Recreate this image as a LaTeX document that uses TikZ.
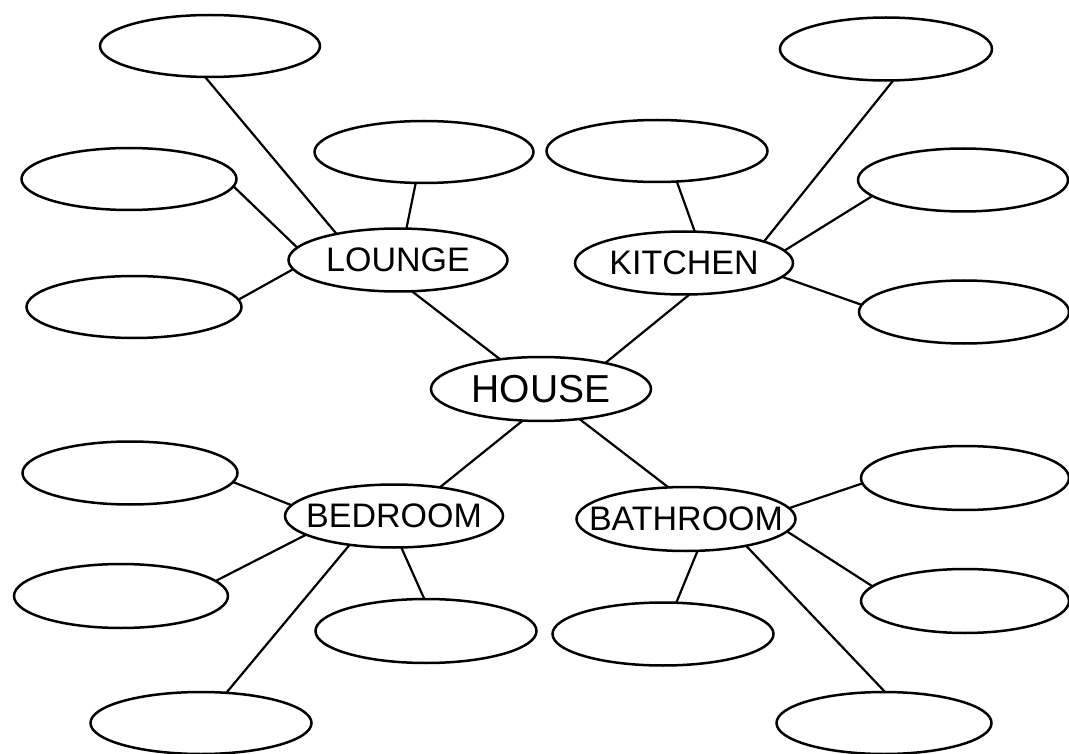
\documentclass[tikz,border=0pt]{standalone}
\usepackage{fontspec}
\setmainfont{Liberation Sans}
\usetikzlibrary{shapes.geometric}
\newcommand{\ovaltext}[1]{\makebox[0pt][c]{#1}}
\begin{document}
\begin{tikzpicture}[x=1pt,y=-1pt,
  oval/.style={ellipse, draw=black, line width=2.5pt, inner sep=0pt, outer sep=0pt},
  blank/.style={oval},
  topic/.style={oval, font=\fontsize{34}{34}\selectfont},
  hub/.style={oval, font=\fontsize{39}{39}\selectfont},
  link/.style={draw=black, line width=2.2pt}]
\useasboundingbox (0,0) rectangle (1069,754);
% centre and topics
\node[hub, minimum width=220pt, minimum height=64pt] (house) at (541,389) {\ovaltext{HOUSE}};
\node[topic, minimum width=219pt, minimum height=63pt] (lounge) at (398,260) {\ovaltext{LOUNGE}};
\node[topic, minimum width=218pt, minimum height=63pt] (kitchen) at (684,263) {\ovaltext{KITCHEN}};
\node[topic, minimum width=218pt, minimum height=63pt] (bedroom) at (394,516) {\ovaltext{BEDROOM}};
\node[topic, minimum width=219pt, minimum height=64pt] (bathroom) at (686,519) {\ovaltext{BATHROOM}};
% lounge group
\node[blank, minimum width=220pt, minimum height=62pt] (t1) at (210,46) {};
\node[blank, minimum width=219pt, minimum height=62pt] (t2) at (424,152) {};
\node[blank, minimum width=215pt, minimum height=62pt] (t3) at (129,179) {};
\node[blank, minimum width=215pt, minimum height=62pt] (t4) at (134,307) {};
% kitchen group
\node[blank, minimum width=212pt, minimum height=63pt] (k1) at (886,49) {};
\node[blank, minimum width=221pt, minimum height=62pt] (k2) at (657,151) {};
\node[blank, minimum width=210pt, minimum height=63pt] (k3) at (963,180) {};
\node[blank, minimum width=210pt, minimum height=63pt] (k4) at (964,312) {};
% bedroom group
\node[blank, minimum width=215pt, minimum height=63pt] (b1) at (130,473) {};
\node[blank, minimum width=214pt, minimum height=64pt] (b2) at (121,596) {};
\node[blank, minimum width=221pt, minimum height=64pt] (b3) at (426,631) {};
\node[blank, minimum width=221pt, minimum height=62pt] (b4) at (201,723) {};
% bathroom group
\node[blank, minimum width=208pt, minimum height=64pt] (r1) at (965,478) {};
\node[blank, minimum width=208pt, minimum height=64pt] (r2) at (965,601) {};
\node[blank, minimum width=221pt, minimum height=63pt] (r3) at (663,634) {};
\node[blank, minimum width=215pt, minimum height=62pt] (r4) at (884,723) {};
% connectors to the centre
\draw[link] (lounge.294.4) -- (house.144.5);
\draw[link] (kitchen.280) -- (house.22.6);
\draw[link] (bedroom.32) -- (house.240);
\draw[link] (bathroom.119.4) -- (house.322.9);
% lounge
\draw[link] (t1.261.1) -- (lounge.157.1);
\draw[link] (t2.255.5) -- (lounge.75.5);
\draw[link] (t3.356.7) -- (lounge.173.4);
\draw[link] (t4.4.9) -- (lounge.185.3);
% kitchen
\draw[link] (k1.283.6) -- (kitchen.15.8);
\draw[link] (k2.303.3) -- (kitchen.71.6);
\draw[link] (k3.190.5) -- (kitchen.7.0);
\draw[link] (k4.176.1) -- (kitchen.352.1);
% bedroom
\draw[link] (b1.355.1) -- (bedroom.174.6);
\draw[link] (b2.9.2) -- (bedroom.192);
\draw[link] (b3.93.6) -- (bedroom.283.6);
\draw[link] (b4.50.2) -- (bedroom.213.7);
% bathroom
\draw[link] (r1.183.9) -- (bathroom.6);
\draw[link] (r2.171.6) -- (bathroom.353.1);
\draw[link] (r3.67.9) -- (bathroom.290);
\draw[link] (r4.88) -- (bathroom.336.8);
\end{tikzpicture}
\end{document}
